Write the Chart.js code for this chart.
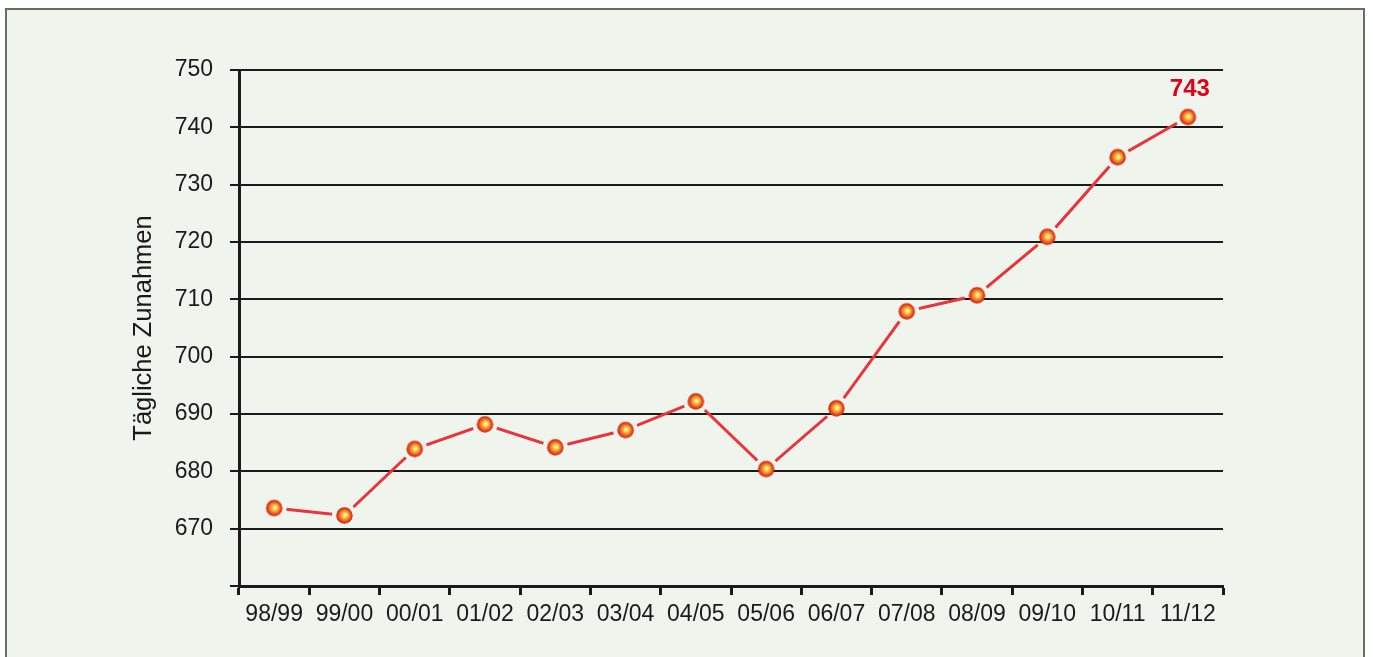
<!DOCTYPE html>
<html>
<head>
<meta charset="utf-8">
<script src="https://cdn.jsdelivr.net/npm/chart.js@4"></script>
<style>
  html,body{margin:0;padding:0;background:#ffffff;}
  #frame{position:absolute;left:5px;top:8px;width:1360px;height:660px;background:#eff5ec;border:2px solid #6b6b6b;box-sizing:border-box;}
  #wrap{position:absolute;left:0;top:0;width:1373px;height:657px;}
</style>
</head>
<body>
<div id="frame"></div>
<div id="wrap"><canvas id="c" width="1373" height="657"></canvas></div>
<script>
const categories = ['98/99','99/00','00/01','01/02','02/03','03/04','04/05','05/06','06/07','07/08','08/09','09/10','10/11','11/12'];
const dailyGain = [673.6, 672.3, 683.9, 688.2, 684.2, 687.2, 692.2, 680.4, 691.0, 707.9, 710.7, 720.9, 734.8, 741.8];
const yTicks = [660, 670, 680, 690, 700, 710, 720, 730, 740, 750];
const axisTitle = 'Tägliche Zunahmen';
const lastLabel = '743';

function makeBall(r){
  const c = document.createElement('canvas');
  const s = Math.ceil(r*2+2);
  c.width = s; c.height = s;
  const g = c.getContext('2d');
  const cx = s/2, cy = s/2;
  const grad = g.createRadialGradient(cx+1, cy-0.5, 0, cx, cy, r);
  grad.addColorStop(0, '#ffffff');
  grad.addColorStop(0.2, '#ffe27a');
  grad.addColorStop(0.45, '#f9a428');
  grad.addColorStop(0.72, '#ea561e');
  grad.addColorStop(1, '#c91a1c');
  g.fillStyle = grad;
  g.beginPath(); g.arc(cx, cy, r, 0, Math.PI*2); g.fill();
  return c;
}
const ball = makeBall(8.2);

// cut small gaps in the connecting line around each marker
const GAP_R = 12.5;
const gapPlugin = {
  id: 'gaps',
  beforeDatasetDraw(chart, args){
    if (args.index !== 1) return;
    const pts = chart.getDatasetMeta(0).data;
    const ctx = chart.ctx;
    ctx.save();
    ctx.beginPath();
    ctx.rect(0, 0, chart.width, chart.height);
    pts.forEach(p => { ctx.moveTo(p.x + GAP_R, p.y); ctx.arc(p.x, p.y, GAP_R, 0, Math.PI*2, true); });
    ctx.clip('evenodd');
  },
  afterDatasetDraw(chart, args){
    if (args.index !== 1) return;
    chart.ctx.restore();
  }
};

const labelPlugin = {
  id: 'lastLabel',
  afterDatasetsDraw(chart){
    const meta = chart.getDatasetMeta(0);
    const p = meta.data[meta.data.length-1];
    const ctx = chart.ctx;
    ctx.save();
    ctx.font = 'bold 24px "Liberation Sans", Arial, sans-serif';
    ctx.fillStyle = '#e0001b';
    ctx.textAlign = 'center';
    ctx.textBaseline = 'middle';
    ctx.fillText(lastLabel, p.x + 2, p.y - 28);
    ctx.restore();
  }
};

new Chart(document.getElementById('c'), {
  type: 'line',
  data: {
    labels: categories,
    datasets: [{
      data: dailyGain,
      showLine: false,
      pointStyle: ball,
      pointRadius: 9,
      pointHoverRadius: 9
    }, {
      data: dailyGain,
      borderColor: '#e8343a',
      borderWidth: 3,
      pointRadius: 0,
      tension: 0,
      fill: false
    }]
  },
  options: {
    responsive: false,
    animation: false,
    events: [],
    layout: { padding: { top: 70, right: 150, left: 129, bottom: 0 } },
    plugins: { legend: { display: false }, tooltip: { enabled: false } },
    scales: {
      x: {
        offset: true,
        grid: { offset: true, drawOnChartArea: false, drawTicks: true, tickLength: 9, tickWidth: 3, tickColor: '#1a1a1a' },
        border: { display: true, color: '#1a1a1a', width: 3 },
        ticks: { color: '#1a1a1a', font: { family: '"Liberation Sans", Arial, sans-serif', size: 23 }, padding: 6, maxRotation: 0, autoSkip: false },
        afterFit(scale){ scale.height = 71; }
      },
      y: {
        min: 660, max: 750,
        afterBuildTicks(scale){ scale.ticks = yTicks.map(v => ({ value: v })); },
        grid: { color: '#1a1a1a', lineWidth: 2, tickLength: 9, drawTicks: true },
        border: { display: true, color: '#1a1a1a', width: 3 },
        ticks: { color: '#1a1a1a', font: { family: '"Liberation Sans", Arial, sans-serif', size: 23 }, padding: 17, callback: (v) => v === 660 ? '' : v },
        title: { display: true, text: axisTitle, color: '#1a1a1a', font: { family: '"Liberation Sans", Arial, sans-serif', size: 25.5 }, padding: { top: 0, bottom: 0 } },
        afterFit(scale){ scale.width = 239 - 129; }
      }
    }
  },
  plugins: [gapPlugin, labelPlugin]
});
</script>
</body>
</html>
